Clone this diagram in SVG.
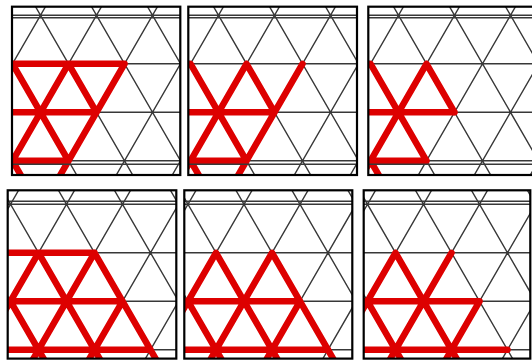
<svg xmlns="http://www.w3.org/2000/svg" xmlns:xlink="http://www.w3.org/1999/xlink" width="532" height="360" viewBox="0 0 532 360">
<style>
.grid{fill:none;stroke:#383838;stroke-width:1.4}
.red{fill:none;stroke:#dd0000;stroke-width:6.5;stroke-linecap:round;stroke-linejoin:round}
.frame{fill:none;stroke:#000;stroke-width:2.2}
.bg{fill:#fff}
</style>
<defs>
<path id="lat" class="grid" d="M-424.3 -250L-135.7 250M-368.3 -250L-79.7 250M-312.3 -250L-23.7 250M-256.3 -250L32.3 250M-200.3 -250L88.3 250M-144.3 -250L144.3 250M-88.3 -250L200.3 250M-32.3 -250L256.3 250M23.7 -250L312.3 250M79.7 -250L368.3 250M135.7 -250L424.3 250M191.7 -250L480.3 250M-135.7 -250L-424.3 250M-79.7 -250L-368.3 250M-23.7 -250L-312.3 250M32.3 -250L-256.3 250M88.3 -250L-200.3 250M144.3 -250L-144.3 250M200.3 -250L-88.3 250M256.3 -250L-32.3 250M312.3 -250L23.7 250M368.3 -250L79.7 250M424.3 -250L135.7 250M480.3 -250L191.7 250M-300 -194H500M-300 -145.5H500M-300 -97H500M-300 -48.5H500M-300 0H500M-300 48.5H500M-300 97H500M-300 145.5H500M-300 194H500"/>
<clipPath id="c1"><rect x="12" y="6.7" width="168.3" height="168.3"/></clipPath>
<clipPath id="c2"><rect x="188.3" y="6.7" width="168.7" height="168.3"/></clipPath>
<clipPath id="c3"><rect x="368.3" y="6.7" width="170" height="168.3"/></clipPath>
<clipPath id="c4"><rect x="7.7" y="190.3" width="168.6" height="168.3"/></clipPath>
<clipPath id="c5"><rect x="184.3" y="190.3" width="168" height="168.3"/></clipPath>
<clipPath id="c6"><rect x="363.7" y="190.3" width="166.6" height="168.3"/></clipPath>
</defs>
<rect class="bg" x="0" y="0" width="532" height="360"/>

<g id="panel1">
 <g clip-path="url(#c1)">
  <g transform="translate(12.5,63.8)">
   <use xlink:href="#lat" href="#lat"/>
   <path class="red" d="M-20 0H112M-20 48.5H84M-20 97H56M112 0L28 145.5M56 0L-28 145.5M0 0L56 97M56 0L84 48.5M0 97L28 145.5"/>
  </g>
  <path class="grid" d="M0 17.7H532M0 164.2H532"/>
 </g>
 <rect class="frame" x="12" y="6.7" width="168.3" height="168.3"/>
</g>

<g id="panel2">
 <g clip-path="url(#c2)">
  <g transform="translate(190.5,63.8)">
   <use xlink:href="#lat" href="#lat"/>
   <path class="red" d="M-20 48.5H84M-20 97H56M112 0L28 145.5M56 0L-28 145.5M0 0L56 97M56 0L84 48.5M0 97L28 145.5"/>
  </g>
  <path class="grid" d="M0 17.7H532M0 164.2H532"/>
 </g>
 <rect class="frame" x="188.3" y="6.7" width="168.7" height="168.3"/>
</g>

<g id="panel3">
 <g clip-path="url(#c3)">
  <g transform="translate(370.5,63.8)">
   <use xlink:href="#lat" href="#lat"/>
   <path class="red" d="M-20 48.5H84M-20 97H56M56 0L-28 145.5M0 0L56 97M56 0L84 48.5M0 97L28 145.5"/>
  </g>
  <path class="grid" d="M0 17.7H540M0 164.2H540"/>
 </g>
 <rect class="frame" x="368.3" y="6.7" width="170" height="168.3"/>
</g>

<g id="panel4">
 <g clip-path="url(#c4)">
  <g transform="translate(10.5,301.3)">
   <use xlink:href="#lat" href="#lat"/>
   <path class="red" d="M-20 -48.5H84M-20 0H112M-20 48.5H140M28 -48.5L98 72.75M84 -48.5L154 72.75M28 -48.5L-28 48.5M84 -48.5L14 72.75M112 0L70 72.75M0 0L42 72.75"/>
  </g>
  <path class="grid" d="M0 201.3H532"/>
 </g>
 <rect class="frame" x="7.7" y="190.3" width="168.6" height="168.3"/>
</g>

<g id="panel5">
 <g clip-path="url(#c5)">
  <g transform="translate(188,301.3)">
   <use xlink:href="#lat" href="#lat"/>
   <path class="red" d="M28 -48.5L-28 48.5M28 -48.5L98 72.75M84 -48.5L14 72.75M84 -48.5L154 72.75M-20 0H112M-20 48.5H140M0 0L42 72.75M112 0L70 72.75"/>
  </g>
  <path class="grid" d="M0 201.3H532"/>
 </g>
 <rect class="frame" x="184.3" y="190.3" width="168" height="168.3"/>
</g>

<g id="panel6">
 <g clip-path="url(#c6)">
  <g transform="translate(367.5,301.3)">
   <use xlink:href="#lat" href="#lat"/>
   <path class="red" d="M28 -48.5L-28 48.5M28 -48.5L98 72.75M84 -48.5L14 72.75M-20 0H112M112 0L70 72.75M-20 48.5H140M0 0L42 72.75"/>
  </g>
  <path class="grid" d="M0 201.3H532"/>
 </g>
 <rect class="frame" x="363.7" y="190.3" width="166.6" height="168.3"/>
</g>

<g id="connectors"></g>
</svg>
